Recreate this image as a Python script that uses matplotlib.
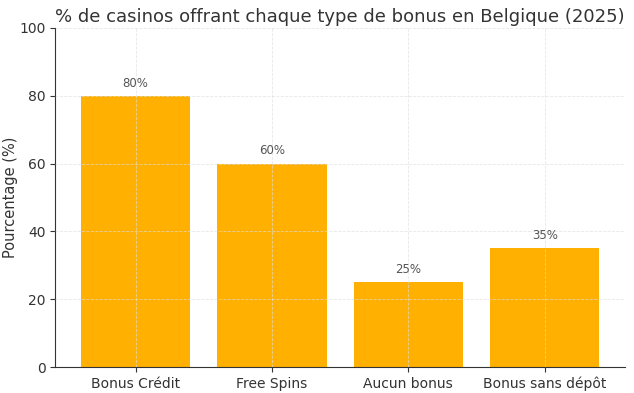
import matplotlib.pyplot as plt

categories = ["Bonus Crédit", "Free Spins", "Aucun bonus", "Bonus sans dépôt"]
values = [80, 60, 25, 35]

fig = plt.figure(figsize=(6.34, 3.93), dpi=100)
ax = fig.add_axes([0.087, 0.066, 0.899, 0.863])

bars = ax.bar(categories, values, color="#FFB000", width=0.8)
ax.set_axisbelow(False)
ax.grid(True, linestyle="--", linewidth=0.6, color="#dddddd", alpha=0.7)

for b, v in zip(bars, values):
    ax.text(b.get_x() + b.get_width() / 2, v + 1.8, f"{v}%", ha="center", va="bottom",
            fontsize=8.5, color="#555555")

ax.set_ylim(0, 100)
ax.set_ylabel("Pourcentage (%)", fontsize=10.5, color="#333333", labelpad=1)
ax.set_title("% de casinos offrant chaque type de bonus en Belgique (2025)", fontsize=13,
             color="#333333", pad=4)
ax.tick_params(labelsize=10, colors="#333333")
for s in ["top", "right"]:
    ax.spines[s].set_visible(False)
for s in ["left", "bottom"]:
    ax.spines[s].set_color("#333333")

fig.savefig("out.png", dpi=100)
